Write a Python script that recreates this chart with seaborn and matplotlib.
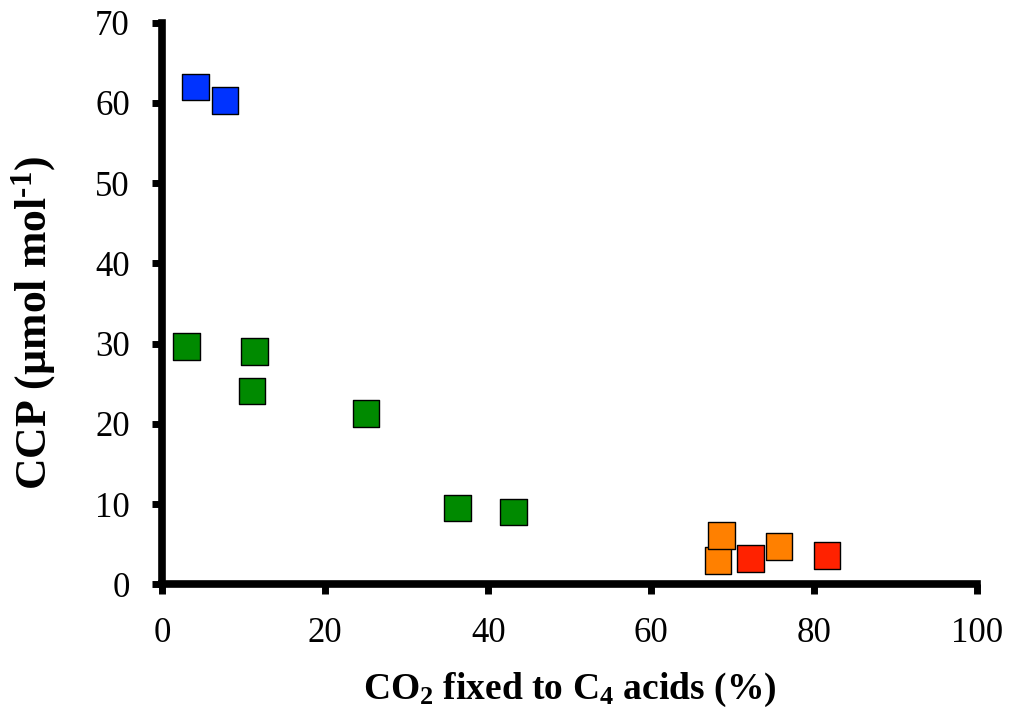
import matplotlib
matplotlib.use("Agg")
import matplotlib.pyplot as plt
import seaborn as sns
import pandas as pd

# CO2 fixed into C4 acids (%) and CO2 compensation point (µmol mol-1) per species group
c3_x = [4.1, 7.7]
c3_y = [62.0, 60.3]
inter_x = [3.0, 11.3, 11.0, 25.0, 36.2, 43.1]
inter_y = [29.6, 29.0, 24.1, 21.3, 9.5, 9.0]
c4like_x = [68.2, 68.6, 75.7]
c4like_y = [3.0, 6.05, 4.75]
c4_x = [72.2, 81.6]
c4_y = [3.2, 3.55]

groups = ["C3", "C3-C4", "C4-like", "C4"]
colors = ["#0033FF", "#008A00", "#FF8000", "#FF2200"]

x_ticks = [0, 20, 40, 60, 80, 100]
y_ticks = [0, 10, 20, 30, 40, 50, 60, 70]

df = pd.concat([
    pd.DataFrame({"x": c3_x, "y": c3_y, "group": groups[0]}),
    pd.DataFrame({"x": inter_x, "y": inter_y, "group": groups[1]}),
    pd.DataFrame({"x": c4like_x, "y": c4like_y, "group": groups[2]}),
    pd.DataFrame({"x": c4_x, "y": c4_y, "group": groups[3]}),
], ignore_index=True)

sns.set_style("white")
plt.rcParams["font.family"] = ["Liberation Serif", "DejaVu Serif"]
plt.rcParams["mathtext.fontset"] = "custom"
plt.rcParams["mathtext.rm"] = "Liberation Serif:bold"
plt.rcParams["mathtext.bf"] = "Liberation Serif:bold"
plt.rcParams["mathtext.it"] = "Liberation Serif:italic"
plt.rcParams["text.color"] = "black"
plt.rcParams["axes.labelcolor"] = "black"
plt.rcParams["xtick.color"] = "black"
plt.rcParams["ytick.color"] = "black"

fig = plt.figure(figsize=(10.15, 7.14), dpi=100)
ax = fig.add_axes([0.160, 0.1816, 0.8025, 0.7866])

sns.scatterplot(data=df, x="x", y="y", hue="group", hue_order=groups,
                palette=colors, marker="s", s=370, edgecolor="black",
                linewidth=1.0, legend=False, ax=ax, zorder=3, clip_on=False)

ax.set_xlim(0, 100)
ax.set_ylim(0, 70)
ax.set_xticks(x_ticks)
ax.set_yticks(y_ticks)

for side in ["top", "right"]:
    ax.spines[side].set_visible(False)
for side in ["left", "bottom"]:
    ax.spines[side].set_linewidth(5.5)
    ax.spines[side].set_color("black")

ax.tick_params(axis="both", which="major", bottom=True, left=True,
               direction="out", length=7.5, width=5,
               color="black", labelcolor="black", labelsize=25)
ax.tick_params(axis="y", pad=16)
ax.tick_params(axis="x", pad=16)

ax.set_xlabel(r"CO$_\mathbf{2}$ fixed to C$_\mathbf{4}$ acids (%)",
              fontsize=27, fontweight="bold", color="black")
ax.set_ylabel(r"CCP (µmol mol$^{\text{-}\mathbf{1}}$)", fontsize=31.5,
              fontweight="bold", color="black")
ax.xaxis.set_label_coords(0.5, -0.153)
ax.yaxis.set_label_coords(-0.128, 0.465)

ax.grid(False)
fig.savefig("out.png", dpi=100)
